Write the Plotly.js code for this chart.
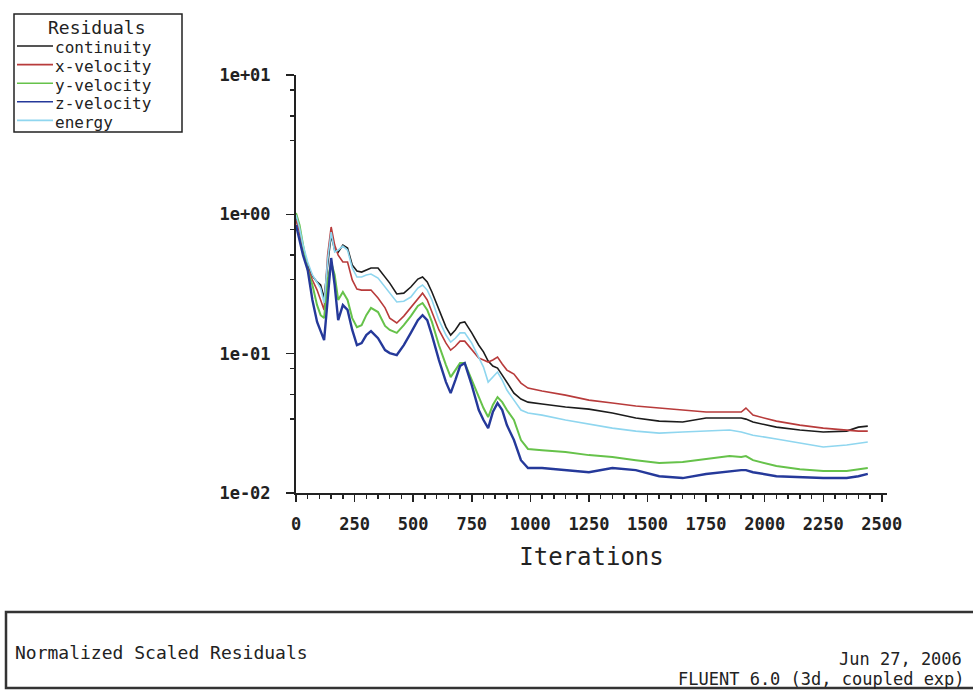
<!DOCTYPE html>
<html>
<head>
<meta charset="utf-8">
<script src="https://cdn.plot.ly/plotly-3.0.1.min.js"></script>
<style>html,body{margin:0;padding:0;background:#fff;}#chart{width:973px;height:695px;}</style>
</head>
<body>
<div id="chart"></div>
<script>
const iterations = [0,15,30,50,70,90,105,120,135,150,165,180,200,220,240,260,280,300,320,350,380,400,430,460,490,520,540,560,580,610,640,660,680,700,720,750,780,800,820,840,860,880,900,930,960,990,1050,1150,1250,1350,1450,1550,1650,1750,1850,1900,1920,1950,2050,2150,2250,2350,2400,2440];

const continuity = [0.941,0.772,0.573,0.433,0.361,0.327,0.311,0.251,0.433,0.710,0.554,0.536,0.602,0.573,0.433,0.392,0.385,0.398,0.412,0.412,0.355,0.321,0.268,0.272,0.301,0.343,0.355,0.327,0.277,0.206,0.155,0.136,0.148,0.166,0.169,0.141,0.115,0.103,0.0885,0.0815,0.0788,0.0702,0.0625,0.0521,0.0472,0.0449,0.0435,0.0414,0.0400,0.0375,0.0345,0.0328,0.0323,0.0345,0.0345,0.0345,0.0339,0.0323,0.0297,0.0283,0.0274,0.0278,0.0297,0.0302];

const xVelocity = [0.910,0.746,0.554,0.412,0.338,0.286,0.243,0.206,0.510,0.811,0.602,0.510,0.455,0.455,0.338,0.291,0.286,0.286,0.286,0.251,0.213,0.180,0.166,0.186,0.216,0.251,0.272,0.243,0.199,0.148,0.119,0.106,0.113,0.123,0.123,0.106,0.0930,0.0900,0.0871,0.0900,0.0945,0.0842,0.0762,0.0714,0.0615,0.0566,0.0539,0.0504,0.0464,0.0442,0.0421,0.0407,0.0394,0.0381,0.0381,0.0381,0.0407,0.0362,0.0328,0.0307,0.0292,0.0283,0.0278,0.0278];

const yVelocity = [1.022,0.838,0.602,0.398,0.311,0.223,0.189,0.180,0.338,0.455,0.367,0.243,0.277,0.243,0.180,0.155,0.160,0.189,0.213,0.199,0.158,0.148,0.141,0.160,0.186,0.220,0.231,0.206,0.169,0.115,0.0828,0.0679,0.0762,0.0856,0.0856,0.0646,0.0480,0.0407,0.0351,0.0428,0.0488,0.0449,0.0394,0.0334,0.0240,0.0207,0.0203,0.0197,0.0187,0.0181,0.0172,0.0164,0.0167,0.0175,0.0184,0.0181,0.0184,0.0172,0.0156,0.0148,0.0144,0.0144,0.0148,0.0151];

const zVelocity = [0.838,0.654,0.510,0.398,0.243,0.169,0.143,0.125,0.243,0.486,0.311,0.174,0.223,0.206,0.148,0.115,0.119,0.136,0.145,0.129,0.106,0.101,0.0977,0.115,0.141,0.174,0.189,0.174,0.136,0.0900,0.0625,0.0521,0.0646,0.0815,0.0856,0.0595,0.0394,0.0334,0.0292,0.0381,0.0442,0.0394,0.0307,0.0240,0.0172,0.0151,0.0151,0.0146,0.0141,0.0151,0.0146,0.0132,0.0128,0.0137,0.0144,0.0146,0.0146,0.0141,0.0132,0.0130,0.0128,0.0128,0.0132,0.0137];

const energy = [0.988,0.797,0.602,0.455,0.367,0.327,0.296,0.231,0.470,0.746,0.536,0.554,0.592,0.554,0.412,0.355,0.355,0.367,0.373,0.349,0.301,0.272,0.235,0.238,0.255,0.296,0.311,0.286,0.243,0.174,0.136,0.121,0.129,0.141,0.141,0.119,0.0945,0.0801,0.0625,0.0679,0.0738,0.0646,0.0548,0.0464,0.0394,0.0375,0.0362,0.0334,0.0312,0.0292,0.0278,0.0269,0.0274,0.0278,0.0283,0.0274,0.0269,0.0260,0.0244,0.0228,0.0214,0.0221,0.0228,0.0232];

const seriesNames = ['continuity','x-velocity','y-velocity','z-velocity','energy'];
const seriesValues = [continuity, xVelocity, yVelocity, zVelocity, energy];
const seriesColors = ['#1c1c1c','#b83b3b','#66c24a','#25399a','#8fd6ef'];
const seriesWidths = [1.6,1.6,2,2.4,1.6];

const yTickVals = [0.01,0.1,1,10];
const yTickText = ['1e-02','1e-01','1e+00','1e+01'];
const yMinorVals = [7.8,5.1,3.4,0.78,0.51,0.34,0.078,0.051,0.034];
const xTickVals = [0,250,500,750,1000,1250,1500,1750,2000,2250,2500];
const xTickText = xTickVals.map(String);

const FONT = 'DejaVu Sans Mono, monospace';
const INK = '#222';

// plot-area geometry (px) used to place the decorative frame/legend in paper coords
const L = 296, R = 86, T = 75, B = 202, W = 973 - L - R, H = 695 - T - B;
const px = x => (x - L) / W;
const py = y => (T + H - y) / H;

const traces = seriesNames.map((name, i) => ({
  x: iterations,
  y: seriesValues[i],
  type: 'scatter',
  mode: 'lines',
  name: name,
  line: {color: seriesColors[i], width: seriesWidths[i]},
  hoverinfo: 'x+y+name'
}));

const shapes = [
  {type:'rect', xref:'paper', yref:'paper', x0:px(14), x1:px(182), y0:py(14), y1:py(132), line:{color:INK, width:1.5}},
  {type:'rect', xref:'paper', yref:'paper', x0:px(6), x1:px(985), y0:py(612), y1:py(688), line:{color:'#333', width:2.5}}
];
const annotations = [
  {text:'Residuals', xref:'paper', yref:'paper', x:px(97), y:py(28), xanchor:'center', yanchor:'middle', showarrow:false, font:{family:FONT, size:18, color:INK}},
  {text:'Normalized Scaled Residuals', xref:'paper', yref:'paper', x:px(13), y:py(652), xanchor:'left', yanchor:'middle', showarrow:false, font:{family:FONT, size:18, color:INK}},
  {text:'Jun 27, 2006', xref:'paper', yref:'paper', x:px(964), y:py(659), xanchor:'right', yanchor:'middle', showarrow:false, font:{family:FONT, size:17, color:INK}},
  {text:'FLUENT 6.0 (3d, coupled exp)', xref:'paper', yref:'paper', x:px(967), y:py(679), xanchor:'right', yanchor:'middle', showarrow:false, font:{family:FONT, size:17, color:INK}}
];
seriesNames.forEach((name, i) => {
  const ty = 48 + 18.6 * i;
  shapes.push({type:'line', xref:'paper', yref:'paper', x0:px(17), x1:px(53), y0:py(ty - 2), y1:py(ty - 2), line:{color:seriesColors[i], width:1.6}});
  annotations.push({text:name, xref:'paper', yref:'paper', x:px(53), y:py(ty), xanchor:'left', yanchor:'middle', showarrow:false, font:{family:FONT, size:16, color:INK}});
});

const layout = {
  width: 973, height: 695,
  margin: {l:L, r:R, t:T, b:B, pad:0},
  paper_bgcolor: '#fff', plot_bgcolor: '#fff',
  showlegend: false,
  font: {family: FONT, color: INK},
  xaxis: {
    range: [0, 2522],
    tickmode: 'array', tickvals: xTickVals, ticktext: xTickText,
    ticks: 'outside', ticklen: 7, tickwidth: 1.5, tickcolor: INK,
    minor: {dtick: 50, tick0: 0, ticks: 'outside', ticklen: 4, tickwidth: 1.5, tickcolor: INK, showgrid: false},
    showline: true, linecolor: INK, linewidth: 2,
    showgrid: false, zeroline: false,
    tickfont: {family: FONT, size: 17, color: INK, weight: 'bold'},
    ticklabelstandoff: 8,
    title: {text: 'Iterations', font: {family: FONT, size: 24, color: INK}, standoff: 15}
  },
  yaxis: {
    type: 'log', range: [-2, 1],
    tickmode: 'array', tickvals: yTickVals, ticktext: yTickText,
    ticks: 'outside', ticklen: 8, tickwidth: 1.5, tickcolor: INK,
    minor: {tickmode: 'array', tickvals: yMinorVals, ticks: 'outside', ticklen: 4, tickwidth: 1.5, tickcolor: INK, showgrid: false},
    showline: true, linecolor: INK, linewidth: 2,
    showgrid: false, zeroline: false,
    tickfont: {family: FONT, size: 17, color: INK, weight: 'bold'},
    ticklabelstandoff: 12
  },
  shapes: shapes,
  annotations: annotations
};

Plotly.newPlot('chart', traces, layout, {displayModeBar: false, staticPlot: true});
</script>
</body>
</html>
